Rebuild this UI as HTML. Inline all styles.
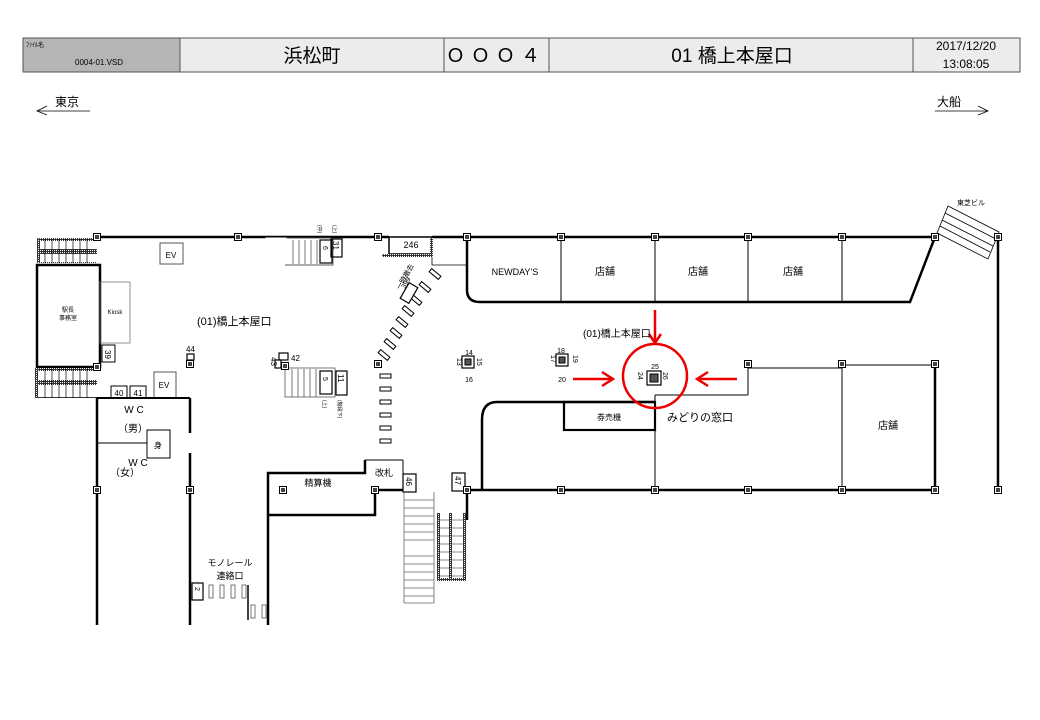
<!DOCTYPE html>
<html><head><meta charset="utf-8"><style>
html,body{margin:0;padding:0;background:#fff;}
svg{display:block;}
text{font-family:"Liberation Sans","Noto Sans CJK JP",sans-serif;fill:#000;}
</style></head><body>
<svg width="1040" height="720" viewBox="0 0 1040 720" xmlns="http://www.w3.org/2000/svg">
<defs>
<g id="p"><rect x="-3.5" y="-3.5" width="7" height="7" fill="#fff" stroke="#000" stroke-width="1"/><rect x="-2" y="-2" width="4" height="4" fill="#444"/></g>
<pattern id="hatch" width="2" height="2" patternUnits="userSpaceOnUse"><rect width="2" height="2" fill="#333"/><rect width="1" height="1" fill="#fff"/></pattern>
</defs>
<!-- header -->
<rect x="23" y="38" width="997" height="34" fill="#ececec" stroke="#555" stroke-width="1"/>
<rect x="23" y="38" width="157" height="34" fill="#b5b5b5" stroke="#555"/>
<line x1="180" y1="38" x2="180" y2="72" stroke="#555"/>
<line x1="444" y1="38" x2="444" y2="72" stroke="#555"/>
<line x1="549" y1="38" x2="549" y2="72" stroke="#555"/>
<line x1="913" y1="38" x2="913" y2="72" stroke="#555"/>
<text x="26" y="47" font-size="6">ﾌｧｲﾙ名</text>
<text x="75" y="65" font-size="8">0004-01.VSD</text>
<text x="312" y="62" font-size="19" text-anchor="middle">浜松町</text>
<text x="496" y="62" font-size="19" text-anchor="middle" letter-spacing="6">ＯＯＯ４</text>
<text x="732" y="62" font-size="19" text-anchor="middle">01 橋上本屋口</text>
<text x="966" y="50" font-size="12" text-anchor="middle">2017/12/20</text>
<text x="966" y="68" font-size="12" text-anchor="middle">13:08:05</text>
<!-- directions -->
<text x="55" y="106" font-size="12">東京</text>
<polyline points="47,106 37,111 47,115" fill="none" stroke="#000" stroke-width="0.8"/>
<line x1="37" y1="111" x2="90" y2="111" stroke="#000" stroke-width="0.8"/>
<text x="937" y="106" font-size="12">大船</text>
<polyline points="978,106 988,111 978,115" fill="none" stroke="#000" stroke-width="0.8"/>
<line x1="935" y1="111" x2="988" y2="111" stroke="#000" stroke-width="0.8"/>

<g stroke="#000" fill="none">
<!-- top wall -->
<line x1="97" y1="237" x2="389" y2="237" stroke-width="2.5"/>
<line x1="432" y1="237" x2="935" y2="237" stroke-width="2.5"/>
<!-- left stairs -->
<rect x="37" y="238" width="60" height="25" fill="url(#hatch)" stroke-width="0"/>
<rect x="40" y="241" width="57" height="8" fill="#fff" stroke-width="0"/>
<rect x="40" y="254" width="57" height="8" fill="#fff" stroke-width="0"/>
<g stroke-width="0.7"><line x1="45" y1="239" x2="45" y2="263"/><line x1="52" y1="239" x2="52" y2="263"/><line x1="59" y1="239" x2="59" y2="263"/><line x1="66" y1="239" x2="66" y2="263"/><line x1="73" y1="239" x2="73" y2="263"/><line x1="80" y1="239" x2="80" y2="263"/><line x1="87" y1="239" x2="87" y2="263"/></g>
<rect x="37" y="265" width="63" height="102" stroke-width="2.5"/>
<rect x="100" y="282" width="30" height="61" stroke="#777" stroke-width="0.8"/>
<rect x="102" y="345" width="13" height="17" stroke-width="1"/>
<rect x="35" y="368" width="62" height="30" fill="url(#hatch)" stroke-width="0"/>
<rect x="38" y="371" width="59" height="9" fill="#fff" stroke-width="0"/>
<rect x="38" y="385" width="59" height="12" fill="#fff" stroke-width="0"/>
<g stroke-width="0.7"><line x1="45" y1="369" x2="45" y2="398"/><line x1="52" y1="369" x2="52" y2="398"/><line x1="59" y1="369" x2="59" y2="398"/><line x1="66" y1="369" x2="66" y2="398"/><line x1="73" y1="369" x2="73" y2="398"/><line x1="80" y1="369" x2="80" y2="398"/><line x1="87" y1="369" x2="87" y2="398"/></g>
<!-- EV -->
<rect x="160" y="243" width="23" height="21" stroke="#555"/>
<rect x="154" y="372" width="22" height="26" stroke="#555"/>
<rect x="111" y="386" width="16" height="12"/>
<rect x="130" y="386" width="16" height="12"/>
<!-- WC -->
<line x1="97" y1="398" x2="190" y2="398" stroke-width="2"/>
<line x1="97" y1="398" x2="97" y2="625" stroke-width="2.5"/>
<line x1="190" y1="398" x2="190" y2="433" stroke-width="2.5"/>
<line x1="190" y1="453" x2="190" y2="625" stroke-width="2.5"/>
<line x1="97" y1="443" x2="147" y2="443" stroke-width="1"/>
<rect x="147" y="430" width="23" height="28" stroke-width="1"/>
<!-- top middle stairs -->
<rect x="266" y="238" width="67" height="27" stroke="#555" stroke-width="0.8"/>
<g stroke="#555" stroke-width="0.8"><line x1="293" y1="240" x2="293" y2="264"/><line x1="299" y1="240" x2="299" y2="264"/><line x1="305" y1="240" x2="305" y2="264"/><line x1="311" y1="240" x2="311" y2="264"/><line x1="317" y1="240" x2="317" y2="264"/></g>
<rect x="266" y="238" width="20" height="27" fill="#fff" stroke="#fff"/>
<line x1="285" y1="265" x2="333" y2="265" stroke="#555"/>
<rect x="320" y="240" width="12" height="23" stroke-width="1.2"/>
<rect x="331" y="239" width="11" height="18" stroke-width="1.2"/>
<!-- 246 -->
<rect x="389" y="237" width="43" height="17" stroke-width="1.5"/>
<rect x="382" y="254" width="50" height="3" fill="url(#hatch)" stroke-width="0"/>
<rect x="430" y="238" width="3" height="19" fill="url(#hatch)" stroke-width="0"/>
<line x1="432" y1="257" x2="432" y2="265" stroke-width="0.8"/>
<line x1="432" y1="265" x2="467" y2="265" stroke-width="0.8"/>
<!-- dashes diagonal -->
<g stroke-width="1">
<rect x="-6" y="-2" width="12" height="4" transform="translate(435,274) rotate(40)"/>
<rect x="-6" y="-2" width="12" height="4" transform="translate(425,287) rotate(40)"/>
<rect x="-6" y="-2" width="12" height="4" transform="translate(416,300) rotate(40)"/>
<rect x="-6" y="-2" width="12" height="4" transform="translate(408,311) rotate(40)"/>
<rect x="-6" y="-2" width="12" height="4" transform="translate(402,322) rotate(40)"/>
<rect x="-6" y="-2" width="12" height="4" transform="translate(396,333) rotate(40)"/>
<rect x="-6" y="-2" width="12" height="4" transform="translate(390,344) rotate(40)"/>
<rect x="-6" y="-2" width="12" height="4" transform="translate(384,355) rotate(40)"/>
<rect x="-5" y="-9" width="10" height="18" transform="translate(409,293) rotate(30)" fill="#fff" stroke-width="1.2"/>
</g>
<g stroke-width="1"><rect x="380" y="374" width="11" height="4"/><rect x="380" y="387" width="11" height="4"/><rect x="380" y="400" width="11" height="4"/><rect x="380" y="413" width="11" height="4"/><rect x="380" y="426" width="11" height="4"/><rect x="380" y="439" width="11" height="4"/></g>
<!-- mid stairs -->
<rect x="285" y="368" width="50" height="29" stroke="#555" stroke-width="0.8"/>
<g stroke="#555" stroke-width="0.8"><line x1="292" y1="369" x2="292" y2="397"/><line x1="298" y1="369" x2="298" y2="397"/><line x1="304" y1="369" x2="304" y2="397"/><line x1="310" y1="369" x2="310" y2="397"/><line x1="316" y1="369" x2="316" y2="397"/></g>
<rect x="320" y="371" width="12" height="23" stroke-width="1.2"/>
<rect x="336" y="371" width="11" height="24" stroke-width="1.2"/>
<rect x="279" y="353" width="9" height="7" stroke-width="1.2"/>
<rect x="275" y="360" width="6" height="8" stroke-width="1.2"/>
<rect x="187" y="354" width="7" height="6" stroke-width="1.2"/>
<!-- upper stores -->
<path d="M467,237 L467,290 Q467,302 480,302 L910,302 L935,237" stroke-width="2.5"/>
<g stroke-width="1"><line x1="561" y1="237" x2="561" y2="302"/><line x1="655" y1="237" x2="655" y2="302"/><line x1="748" y1="237" x2="748" y2="302"/><line x1="842" y1="237" x2="842" y2="302"/></g>
<!-- Toshiba stairs -->
<g stroke-width="0.8"><polygon points="948,206 999,232 988,259 937,233"/><line x1="945" y1="213" x2="996" y2="239"/><line x1="942" y1="220" x2="993" y2="246"/><line x1="940" y1="226" x2="990" y2="252"/></g>
<line x1="998" y1="237" x2="998" y2="490" stroke-width="2.5"/>
<!-- lower right stores -->
<line x1="748" y1="368" x2="842" y2="368" stroke-width="1"/>
<line x1="842" y1="365" x2="935" y2="365" stroke-width="1"/>
<line x1="748" y1="365" x2="748" y2="395" stroke-width="1"/>
<line x1="842" y1="365" x2="842" y2="490" stroke-width="1"/>
<line x1="935" y1="365" x2="935" y2="490" stroke-width="2.5"/>
<line x1="655" y1="395" x2="748" y2="395" stroke-width="1"/>
<line x1="655" y1="395" x2="655" y2="490" stroke-width="1"/>
<line x1="467" y1="490" x2="935" y2="490" stroke-width="2.5"/>
<path d="M482,490 L482,420 Q482,402 497,402 L655,402" stroke-width="2.5"/>
<rect x="564" y="402" width="91" height="28" stroke-width="2.2"/>
<!-- gates / fare adjust -->
<path d="M268,625 L268,473 L365,473 L365,460" stroke-width="2.5"/>
<line x1="365" y1="460" x2="403" y2="460" stroke-width="1"/>
<line x1="403" y1="460" x2="403" y2="490" stroke-width="1"/>
<path d="M268,515 L375,515 L375,490 L403,490" stroke-width="2.5"/>
<rect x="403" y="474" width="13" height="18" stroke-width="1.2"/>
<rect x="452" y="473" width="13" height="18" stroke-width="1.2"/>
<path d="M467,490 L467,520" stroke-width="2.5"/>
<!-- bottom stairs -->
<g stroke="#666" stroke-width="0.8">
<line x1="404" y1="492" x2="404" y2="603"/><line x1="434" y1="492" x2="434" y2="603"/>
<line x1="404" y1="500" x2="434" y2="500"/><line x1="404" y1="508" x2="434" y2="508"/><line x1="404" y1="516" x2="434" y2="516"/><line x1="404" y1="524" x2="434" y2="524"/><line x1="404" y1="532" x2="434" y2="532"/><line x1="404" y1="540" x2="434" y2="540"/>
<line x1="404" y1="556" x2="434" y2="556"/><line x1="404" y1="564" x2="434" y2="564"/><line x1="404" y1="572" x2="434" y2="572"/><line x1="404" y1="580" x2="434" y2="580"/><line x1="404" y1="588" x2="434" y2="588"/><line x1="404" y1="596" x2="434" y2="596"/><line x1="404" y1="603" x2="434" y2="603"/>
<line x1="437" y1="520" x2="465" y2="520"/><line x1="437" y1="528" x2="465" y2="528"/><line x1="437" y1="536" x2="465" y2="536"/><line x1="437" y1="544" x2="465" y2="544"/><line x1="437" y1="552" x2="465" y2="552"/><line x1="437" y1="560" x2="465" y2="560"/><line x1="437" y1="568" x2="465" y2="568"/><line x1="437" y1="576" x2="465" y2="576"/>
</g>
<rect x="437" y="513" width="3" height="68" fill="url(#hatch)" stroke-width="0"/>
<rect x="449" y="513" width="3" height="68" fill="url(#hatch)" stroke-width="0"/>
<rect x="463" y="513" width="3" height="68" fill="url(#hatch)" stroke-width="0"/>
<rect x="437" y="578" width="29" height="3" fill="url(#hatch)" stroke-width="0"/>
<!-- monorail -->
<rect x="192" y="583" width="11" height="17" stroke-width="1.2"/>
<g stroke="#555" stroke-width="0.8"><rect x="209" y="585" width="4" height="13"/><rect x="220" y="585" width="4" height="13"/><rect x="231" y="585" width="4" height="13"/><rect x="242" y="585" width="4" height="13"/><rect x="251" y="605" width="4" height="13"/><rect x="262" y="605" width="4" height="13"/></g>
<line x1="248" y1="585" x2="248" y2="620" stroke-width="1.5"/>
</g>
<!-- pillars -->
<g>
<use href="#p" x="97" y="237"/><use href="#p" x="238" y="237"/><use href="#p" x="378" y="237"/><use href="#p" x="467" y="237"/><use href="#p" x="561" y="237"/><use href="#p" x="655" y="237"/><use href="#p" x="748" y="237"/><use href="#p" x="842" y="237"/><use href="#p" x="935" y="237"/><use href="#p" x="998" y="237"/>
<use href="#p" x="97" y="367"/><use href="#p" x="190" y="364"/><use href="#p" x="285" y="366"/><use href="#p" x="378" y="364"/>
<use href="#p" x="748" y="364"/><use href="#p" x="842" y="364"/><use href="#p" x="935" y="364"/>
<use href="#p" x="97" y="490"/><use href="#p" x="190" y="490"/><use href="#p" x="283" y="490"/><use href="#p" x="375" y="490"/>
<use href="#p" x="467" y="490"/><use href="#p" x="561" y="490"/><use href="#p" x="655" y="490"/><use href="#p" x="748" y="490"/><use href="#p" x="842" y="490"/><use href="#p" x="935" y="490"/><use href="#p" x="998" y="490"/>
</g>
<!-- escalator/stair symbols -->
<g stroke="#000" fill="#fff">
<rect x="462" y="356" width="12" height="12" stroke-width="1.2"/><rect x="465" y="359" width="6" height="6" fill="#555"/>
<rect x="556" y="354" width="12" height="12" stroke-width="1.2"/><rect x="559" y="357" width="6" height="6" fill="#555"/>
<rect x="647" y="371" width="14" height="14" stroke-width="1.2"/><rect x="650" y="374" width="8" height="8" fill="#555"/>
</g>
<!-- red -->
<g stroke="#e00" fill="none" stroke-width="2.5">
<circle cx="655" cy="376" r="32"/>
<line x1="655" y1="310" x2="655" y2="342"/><polyline points="649,334 655,343 661,334"/>
<line x1="573" y1="379" x2="612" y2="379"/><polyline points="602,372 613,379 602,386"/>
<line x1="737" y1="379" x2="698" y2="379"/><polyline points="708,372 697,379 708,386"/>
</g>
<!-- labels -->
<g font-size="8">
<text x="68" y="312" text-anchor="middle" font-size="6">駅長</text>
<text x="68" y="320" text-anchor="middle" font-size="6">事務室</text>
<text x="115" y="314" text-anchor="middle" font-size="6" fill="#555">Kiosk</text>
<text x="171" y="258" text-anchor="middle" font-size="8">EV</text>
<text x="164" y="388" text-anchor="middle" font-size="8">EV</text>
<text x="119" y="396" text-anchor="middle" font-size="8">40</text>
<text x="138" y="396" text-anchor="middle" font-size="8">41</text>
<text x="134" y="413" text-anchor="middle" font-size="10">W C</text>
<text x="118" y="432" font-size="10">（男）</text>
<text x="158" y="448" text-anchor="middle" font-size="8">身</text>
<text x="138" y="466" text-anchor="middle" font-size="10">W C</text>
<text x="110" y="476" font-size="10">（女）</text>
<text x="197" y="325" font-size="11">(01)橋上本屋口</text>
<text x="583" y="337" font-size="10">(01)橋上本屋口</text>
<text x="186" y="352" font-size="8">44</text>
<text x="291" y="361" font-size="8">42</text>
<text x="515" y="275" text-anchor="middle" font-size="9">NEWDAY’S</text>
<text x="605" y="275" text-anchor="middle" font-size="10">店舗</text>
<text x="698" y="275" text-anchor="middle" font-size="10">店舗</text>
<text x="793" y="275" text-anchor="middle" font-size="10">店舗</text>
<text x="888" y="429" text-anchor="middle" font-size="10">店舗</text>
<text x="700" y="421" text-anchor="middle" font-size="11">みどりの窓口</text>
<text x="609" y="420" text-anchor="middle" font-size="8">券売機</text>
<text x="971" y="205" text-anchor="middle" font-size="7">東芝ビル</text>
<text x="411" y="248" text-anchor="middle" font-size="9">246</text>
<text x="469" y="355" text-anchor="middle" font-size="7">14</text>
<text x="469" y="382" text-anchor="middle" font-size="7">16</text>
<text x="561" y="353" text-anchor="middle" font-size="7">18</text>
<text x="562" y="382" text-anchor="middle" font-size="7">20</text>
<text x="655" y="369" text-anchor="middle" font-size="7">25</text>
<text x="318" y="486" text-anchor="middle" font-size="9">精算機</text>
<text x="384" y="476" text-anchor="middle" font-size="9">改札</text>
<text x="230" y="566" text-anchor="middle" font-size="9">モノレール</text>
<text x="230" y="579" text-anchor="middle" font-size="9">連絡口</text>
</g>
<g font-size="8">
<text transform="translate(105,350) rotate(90)">39</text>
<text transform="translate(323,246) rotate(90)" font-size="7">6</text>
<text transform="translate(333,241) rotate(90)">31</text>
<text transform="translate(323,377) rotate(90)" font-size="7">5</text>
<text transform="translate(338,374) rotate(90)">11</text>
<text transform="translate(406,477) rotate(90)">46</text>
<text transform="translate(455,476) rotate(90)">47</text>
<text transform="translate(195,587) rotate(90)" font-size="7">2</text>
<text transform="translate(271,357) rotate(90)">43</text>
<text transform="translate(457,358) rotate(90)" font-size="7">13</text>
<text transform="translate(477,358) rotate(90)" font-size="7">15</text>
<text transform="translate(551,355) rotate(90)" font-size="7">17</text>
<text transform="translate(573,355) rotate(90)" font-size="7">19</text>
<text transform="translate(638,372) rotate(90)" font-size="7">24</text>
<text transform="translate(663,372) rotate(90)" font-size="7">26</text>
<text transform="translate(318,225) rotate(90)" font-size="5">(中)</text>
<text transform="translate(333,225) rotate(90)" font-size="5">(上)</text>
<text transform="translate(323,400) rotate(90)" font-size="5">(上)</text>
<text transform="translate(338,400) rotate(90)" font-size="5">(階段下)</text>
<text transform="translate(400,290) rotate(-60)" font-size="7" fill="#e00">一時撤去</text>
<text transform="translate(405,289) rotate(-60)" font-size="7">399</text>
</g>
</svg>
</body></html>
